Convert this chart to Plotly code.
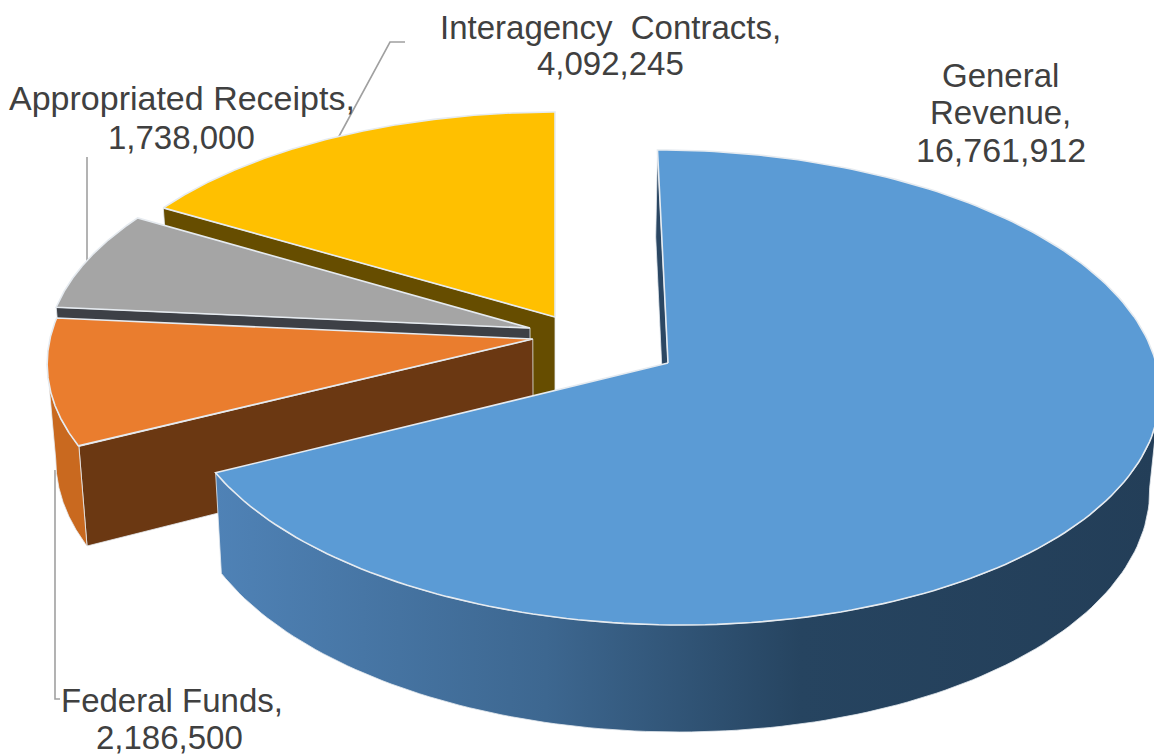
import numpy as np
import plotly.graph_objects as go

# Funding sources, in pie order (clockwise from twelve o'clock)
categories = ["General Revenue", "Federal Funds", "Appropriated Receipts", "Interagency  Contracts"]
amounts = [16761912, 2186500, 1738000, 4092245]

# Slice colours: top face, radial wall, outer wall
top_colors = ["#5b9bd5", "#ea7d2e", "#a5a5a5", "#ffc000"]
wall_colors = ["#2b4763", "#6b3812", "#3d4046", "#664d00"]
rim_colors = ["#4f82b4", "#c9691f", "#7a7a7a", "#b38600"]

# Exploded offset of each slice in the pie plane (unit radius)
offset_x = [0.2316, -0.046, -0.052, 0.0]
offset_y = [0.0, 0.103, 0.151, 0.2]

# Perspective camera for the tilted pie, in pixel space
X0, Y0, A, B, K, DEPTH, BOTTOM_SCALE = 555, 363, 488, 235, 0.103, 96, 0.983
WIDTH, HEIGHT = 1154, 756
EDGE = "#e6ebf0"
TEXT = "#404040"
FONT = "Liberation Sans"
FONT_SIZE = 33


def project(px, py, bottom=False):
    px, py = np.asarray(px, float), np.asarray(py, float)
    w = 1 + K * py
    x = X0 + A * px / w
    y = Y0 - B * py / w
    if bottom:
        x = X0 + (x - X0) * BOTTOM_SCALE
        y = y + DEPTH / w
    return x, y


share = np.array(amounts, float) / sum(amounts) * 2 * np.pi
ends = np.cumsum(share)
starts = ends - share


def plane_arc(i, n=200):
    t = np.linspace(starts[i], ends[i], n)
    return offset_x[i] + np.sin(t), offset_y[i] + np.cos(t)


fig = go.Figure()


def polygon(x, y, fill, line=None, width=0.0, **extra):
    kw = dict(fillcolor=fill) if fill else {}
    fig.add_trace(go.Scatter(
        x=list(x) + [x[0]], y=list(y) + [y[0]], mode="lines", fill="toself",
        line=dict(color=line or "rgba(0,0,0,0)", width=width),
        hoverinfo="skip", showlegend=False, **kw, **extra))


def radial_wall(i, px, py, color):
    xs = [offset_x[i], px]
    ys = [offset_y[i], py]
    tx, ty = project(xs, ys)
    bx, by = project(xs, ys, bottom=True)
    polygon([tx[0], tx[1], bx[1], bx[0]], [ty[0], ty[1], by[1], by[0]], color, EDGE, 0.8)


def rim(i, keep, fill=None, **style):
    # Band between the top and bottom arcs, limited to the part facing the viewer
    px, py = plane_arc(i)
    tx, ty = project(px, py)
    bx, by = project(px, py, bottom=True)
    tx, ty, bx, by = tx[keep(tx)], ty[keep(tx)], bx[keep(tx)], by[keep(tx)]
    polygon(np.r_[tx, bx[::-1]], np.r_[ty, by[::-1]], fill, **style)


def top_face(i):
    px, py = plane_arc(i)
    tx, ty = project(np.r_[offset_x[i], px], np.r_[offset_y[i], py])
    polygon(tx, ty, top_colors[i], EDGE, 1.6)


# Leader lines run underneath the slices they point at
leader_xs = [[337, 390, 405], [87, 87], [55, 55, 60]]
leader_ys = [[140, 42, 42], [157, 265], [470, 699, 699]]
for lx, ly in zip(leader_xs, leader_ys):
    fig.add_trace(go.Scatter(x=lx, y=ly, mode="lines", hoverinfo="skip", showlegend=False,
                             line=dict(color="#a0a0a0", width=1.6)))

# Back-to-front: interagency, appropriated, federal, then general revenue
for i in [3, 2, 1]:
    px, py = plane_arc(i)
    radial_wall(i, px[0], py[0], wall_colors[i])
    if i == 1:
        rim(i, lambda x: np.arange(x.size) <= np.argmin(x), fill=rim_colors[i], line=EDGE, width=0.8)
    top_face(i)

# General revenue: start wall, shaded rim, top face
px, py = plane_arc(0)
radial_wall(0, px[0], py[0], wall_colors[0])
rim(0, lambda x: np.arange(x.size) >= np.argmax(x), line=EDGE, width=0.8,
    fillgradient=dict(type="horizontal", colorscale=[
        [0.0, "#4f82b6"], [0.35, "#3d6790"], [0.62, "#264460"], [1.0, "#233e58"]]))
top_face(0)


def label(x, y, text, size=FONT_SIZE):
    fig.add_annotation(x=x, y=y, text=text, showarrow=False, xref="x", yref="y",
                       xanchor="center", yanchor="middle", borderpad=0,
                       font=dict(family=FONT, size=size, color=TEXT))


label(1000, 75, "General")
label(1000, 112, "Revenue,")
label(1001, 150, f"{amounts[0]:,}", 34)
label(610, 27, categories[3].replace("  ", "\u00a0\u00a0") + ",")
label(610, 63, f"{amounts[3]:,}")
label(182, 98, categories[2] + ",", 34)
label(181, 137, f"{amounts[2]:,}")
label(172, 700, categories[1] + ",")
label(169, 737, f"{amounts[1]:,}")

fig.update_layout(
    width=WIDTH, height=HEIGHT, margin=dict(l=0, r=0, t=0, b=0),
    paper_bgcolor="white", plot_bgcolor="white", showlegend=False,
    xaxis=dict(range=[0, WIDTH], visible=False, fixedrange=True),
    yaxis=dict(range=[HEIGHT, 0], visible=False, fixedrange=True),
)
fig.write_html("out.html", config=dict(displayModeBar=False))
